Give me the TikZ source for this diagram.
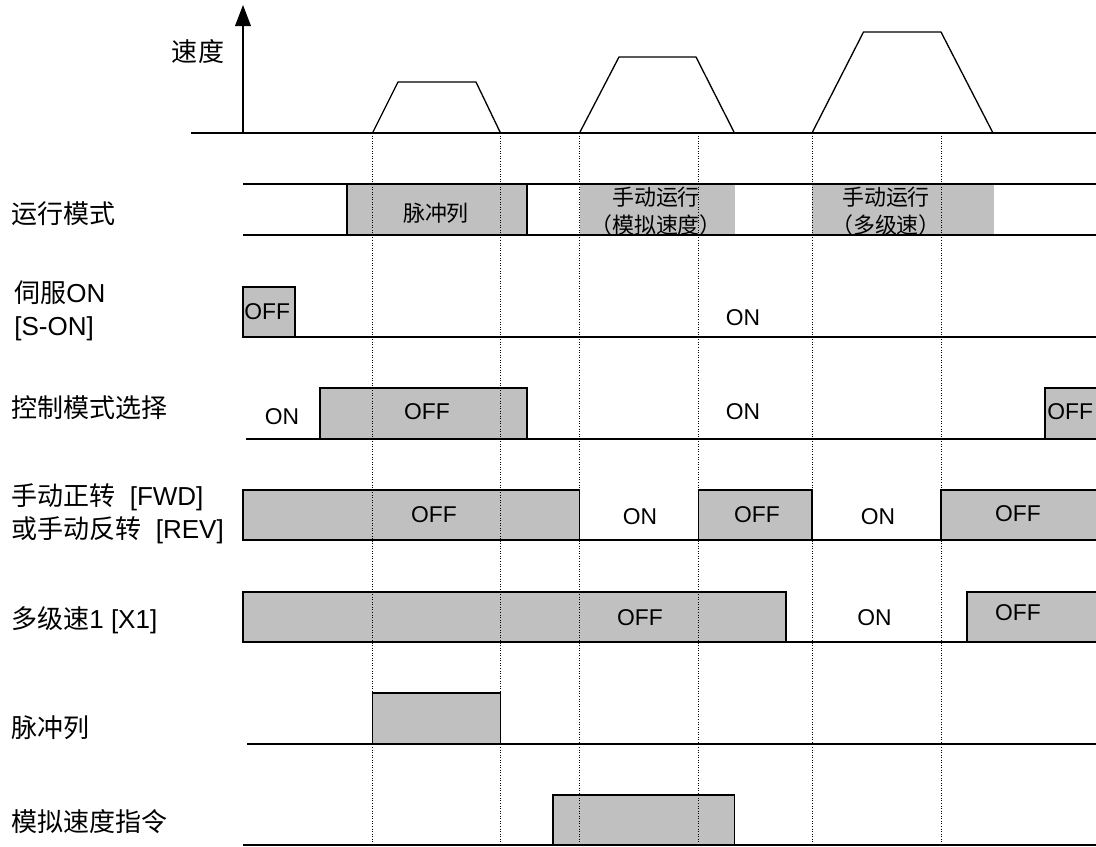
\documentclass[tikz,border=0pt]{standalone}
\usepackage{fontspec}
\setmainfont{Liberation Sans}
\newfontfamily\cjk{Noto Sans CJK SC}
\usepackage{tikz}
\usetikzlibrary{arrows.meta}
\definecolor{boxgray}{RGB}{192,192,192}
\newcommand{\zh}[1]{{\cjk #1}}

\begin{document}
\begin{tikzpicture}[
    x=0.02cm, y=-0.02cm,
    sig/.style={line width=1.1pt},
    thinsig/.style={line width=0.75pt},
    lvl/.style={draw, line width=0.6pt, fill=boxgray},
    lvlfill/.style={fill=boxgray},
    guide/.style={densely dotted, line width=0.45pt},
    lbl/.style={inner sep=0pt, anchor=west, align=left,
                font=\fontsize{14.8pt}{18.5pt}\selectfont},
    stxt/.style={inner sep=0pt, font=\fontsize{13pt}{15pt}\selectfont},
    modetxt/.style={inner sep=0pt, align=center,
                    font=\fontsize{12.5pt}{16pt}\selectfont}
]
\useasboundingbox (0,0) rectangle (1096,846);

% gray levels
\fill[lvlfill] (579.5,184) rectangle (735,235);
\fill[lvlfill] (812,184) rectangle (994,235);
\draw[lvl] (347,184) rectangle (527,235);
\draw[lvl] (243,287) rectangle (295,337);
\draw[lvl] (320,388) rectangle (527,439);
\draw[lvl] (1096,388) -- (1045,388) -- (1045,439) -- (1096,439);
\draw[lvl] (243,490) rectangle (579.5,540);
\draw[lvl] (698.5,490) rectangle (812,540);
\draw[lvl] (1096,490) -- (941,490) -- (941,540) -- (1096,540);
\draw[lvl] (243,592) rectangle (786,642);
\draw[lvl] (1096,592) -- (967,592) -- (967,642) -- (1096,642);
\draw[lvl] (372.5,693) rectangle (500.5,744);
\draw[lvl] (553,795) rectangle (734.5,845);

% timing guides
\foreach \gx in {372.5,500.5,579.5,698.5,812,941}
  \draw[guide] (\gx,133) -- (\gx,846);

% speed profile
\draw[thinsig, -{Triangle[length=12pt, width=9pt]}] (243,133) -- (243,5);
\draw[sig] (191,133) -- (1096,133);
\draw[thinsig] (372.5,133) -- (398,82) -- (476,82) -- (500.5,133);
\draw[thinsig] (579.5,133) -- (619,57) -- (696,57) -- (734.5,133);
\draw[thinsig] (812,133) -- (863.5,32) -- (941,32) -- (993,133);

% signal lines
\draw[thinsig] (243,184) -- (1096,184);
\draw[thinsig] (243,235) -- (1096,235);
\draw[sig] (243,337) -- (1096,337);
\draw[sig] (246,439) -- (1096,439);
\draw[sig] (243,540) -- (1096,540);
\draw[sig] (243,642) -- (1096,642);
\draw[sig] (247,744) -- (1096,744);
\draw[sig] (243,845) -- (1096,845);

% row labels
\node[lbl, anchor=center] (speedlbl) at (198,52) {\zh{速度}};
\node[lbl] (modelbl) at (11,214) {\zh{运行模式}};
\node[lbl] (sonlbl) at (14,311) {\zh{伺服}ON\\{[S-ON]}};
\node[lbl] (ctrllbl) at (11,408) {\zh{控制模式选择}};
\node[lbl] (fwdlbl) at (11,514) {\zh{手动正转}~~[FWD]\\\zh{或手动反转}~~[REV]};
\node[lbl] (x1lbl) at (11,620) {\zh{多级速}1 [X1]};
\node[lbl] (pulselbl) at (11,728) {\zh{脉冲列}};
\node[lbl] (analbl) at (11,822) {\zh{模拟速度指令}};

% run mode texts
\node[modetxt] (modepulse) at (436,213) {\zh{脉冲列}};
\node[modetxt] (modeana) at (656,211) {\zh{手动运行}\\\zh{（模拟速度）}};
\node[modetxt] (modemulti) at (886,211) {\zh{手动运行}\\\zh{（多级速）}};

% state texts
\node[stxt, anchor=west] (sonoff) at (244,312) {OFF};
\node[stxt] (sonon) at (743,318) {ON};
\node[stxt] (ctrlon1) at (282,417) {ON};
\node[stxt] (ctrloff1) at (427,412) {OFF};
\node[stxt] (ctrlon2) at (743,412) {ON};
\node[stxt, anchor=west] (ctrloff2) at (1047,412) {OFF};
\node[stxt] (fwdoff1) at (434,515) {OFF};
\node[stxt] (fwdon1) at (640,517) {ON};
\node[stxt] (fwdoff2) at (757,515) {OFF};
\node[stxt] (fwdon2) at (878,517) {ON};
\node[stxt] (fwdoff3) at (1018,514) {OFF};
\node[stxt] (x1off1) at (640,618) {OFF};
\node[stxt] (x1on) at (874.5,618) {ON};
\node[stxt] (x1off2) at (1018,613) {OFF};
\end{tikzpicture}
\end{document}
